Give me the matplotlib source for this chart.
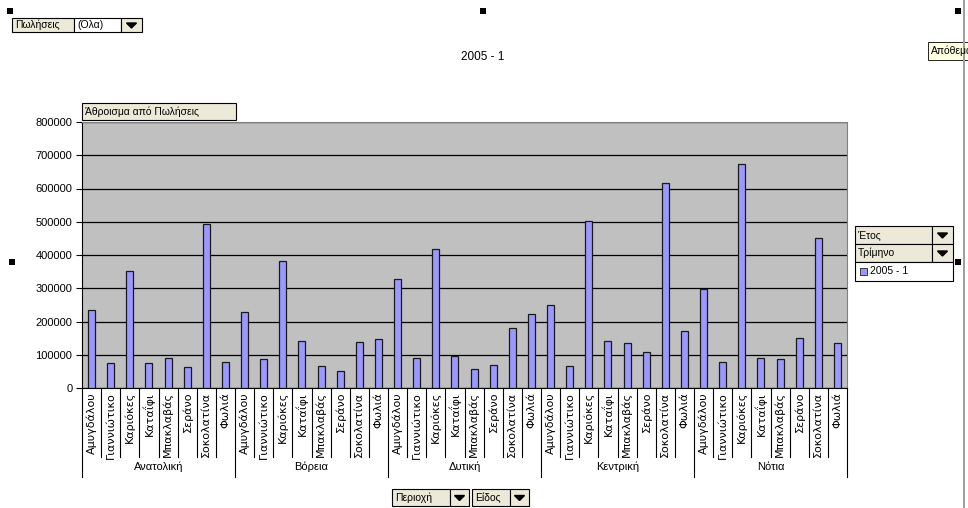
import numpy as np
import matplotlib.pyplot as plt
from matplotlib.patches import Rectangle, Polygon

# Πωλήσεις ανά περιοχή και είδος, 2005 - 1
regions = ['Ανατολική', 'Βόρεια', 'Δυτική', 'Κεντρική', 'Νότια']
products = ['Αμυγδάλου', 'Γιαννιώτικο', 'Καριόκες', 'Καταΐφι',
            'Μπακλαβάς', 'Σεράνο', 'Σοκολατίνα', 'Φωλιά']
sales_anatoliki = [235000, 75000, 352000, 75000, 90000, 63000, 493000, 78000]
sales_voreia = [228000, 87000, 382000, 140000, 66000, 50000, 137000, 148000]
sales_dytiki = [328000, 90000, 418000, 96000, 58000, 70000, 180000, 223000]
sales_kentriki = [250000, 67000, 502000, 142000, 136000, 107000, 618000, 172000]
sales_notia = [298000, 78000, 675000, 91000, 88000, 150000, 450000, 136000]

sales = [sales_anatoliki, sales_voreia, sales_dytiki, sales_kentriki, sales_notia]
values = np.concatenate(sales)
n_prod = len(products)
x = np.arange(len(values))

BAR = '#9999FF'
PLOT_BG = '#C0C0C0'
BTN = '#ECE9D8'
label_font = ['Liberation Sans Narrow', 'DejaVu Sans']
ui_font = ['Liberation Sans', 'DejaVu Sans']

fig = plt.figure(figsize=(9.68, 5.08), dpi=100)
W, H = 968, 508


def fx(px):
    return px / W


def fy(py):
    return 1 - py / H


ax = fig.add_axes([fx(82), fy(388), fx(847) - fx(82), fy(122) - fy(388)])
ax.set_facecolor(PLOT_BG)
ax.bar(x, values, width=0.37, color=BAR, edgecolor='#1a1a1a', linewidth=0.9, zorder=3)
ax.set_xlim(-0.5, len(values) - 0.5)
ax.set_ylim(0, 800000)
ax.set_yticks(np.arange(0, 800001, 100000))
ax.set_yticklabels([str(v) for v in range(0, 800001, 100000)], fontsize=8, family=ui_font)
ax.tick_params(axis='y', length=4, width=0.8, pad=3)
ax.set_xticks([])
ax.yaxis.grid(True, color='black', linewidth=0.9, zorder=1)
ax.set_axisbelow(True)
for side in ['top', 'right']:
    ax.spines[side].set_color('#808080')
for side in ['left', 'bottom']:
    ax.spines[side].set_color('black')

# πίνακας κατηγοριών κάτω από τον άξονα
tr = ax.get_xaxis_transform()
ax_h = 388 - 122
inner_y = -(457 - 388) / ax_h
group_y = -(477 - 388) / ax_h
for i in range(len(values) + 1):
    bottom = group_y if i % n_prod == 0 else inner_y
    ax.plot([i - 0.5, i - 0.5], [0, bottom], color='black', linewidth=0.8,
            transform=tr, clip_on=False)
for i, v in enumerate(values):
    ax.text(i, -(392 - 388) / ax_h, products[i % n_prod], rotation=90,
            ha='center', va='top', fontsize=8, family=label_font, transform=tr)
for g, name in enumerate(regions):
    ax.text(g * n_prod + (n_prod - 1) / 2, -(467 - 388) / ax_h, name,
            ha='center', va='center', fontsize=8, family=ui_font, transform=tr)


def button(x0, y0, x1, y1, text, face=BTN, arrow=False):
    fig.patches.append(Rectangle((fx(x0), fy(y1)), fx(x1 - x0), (y1 - y0) / H,
                                 transform=fig.transFigure, facecolor=face,
                                 edgecolor='black', linewidth=0.8))
    if text:
        fig.text(fx(x0 + 3), fy((y0 + y1) / 2), text, ha='left', va='center',
                 fontsize=7.5, family=ui_font)
    if arrow:
        cx, cy = (x0 + x1) / 2, (y0 + y1) / 2
        fig.patches.append(Polygon([(fx(cx - 5), fy(cy - 2)), (fx(cx + 5), fy(cy - 2)),
                                    (fx(cx), fy(cy + 3))], closed=True,
                                   transform=fig.transFigure, facecolor='black',
                                   edgecolor='black'))


# πεδία σελίδας και δεδομένων
button(12, 18, 74, 32, 'Πωλήσεις')
button(74, 18, 121, 32, '(Όλα)', face='white')
button(121, 18, 142, 32, '', arrow=True)
button(82, 103, 236, 120, 'Άθροισμα από Πωλήσεις')

fig.text(fx(483), fy(57), '2005 - 1', ha='center', va='center', fontsize=8.5, family=ui_font)

# πεδία σειρών
button(855, 226, 932, 244, 'Έτος')
button(932, 226, 953, 244, '', arrow=True)
button(855, 244, 932, 262, 'Τρίμηνο')
button(932, 244, 953, 262, '', arrow=True)
button(855, 262, 953, 281, '', face='white')
fig.patches.append(Rectangle((fx(860), fy(275)), fx(7), 7 / H, transform=fig.transFigure,
                             facecolor=BAR, edgecolor='#222222', linewidth=0.6))
fig.text(fx(870), fy(271.5), '2005 - 1', ha='left', va='center', fontsize=7.5, family=ui_font)

# πεδία κατηγοριών
button(392, 489, 450, 506, 'Περιοχή')
button(450, 489, 469, 506, '', arrow=True)
button(472, 489, 510, 506, 'Είδος')
button(510, 489, 529, 506, '', arrow=True)

# επεξήγηση στο δεξί άκρο και λαβές επιλογής
fig.patches.append(Rectangle((fx(928), fy(60)), fx(40), 18 / H, transform=fig.transFigure,
                             facecolor='#FFFFE1', edgecolor='black', linewidth=0.6))
fig.text(fx(931), fy(51), 'Απόθεμα', ha='left', va='center', fontsize=7.5, family=ui_font)
fig.patches.append(Rectangle((fx(963), 0), fx(2), 1, transform=fig.transFigure,
                             facecolor='#A0A0A0', edgecolor='none'))
for hx, hy in [(10, 11), (483, 11), (958, 11), (12, 262), (958, 262)]:
    fig.patches.append(Rectangle((fx(hx - 3), fy(hy + 3)), fx(6), 6 / H,
                                 transform=fig.transFigure, facecolor='black',
                                 edgecolor='none'))

fig.savefig('out.png', dpi=100)
